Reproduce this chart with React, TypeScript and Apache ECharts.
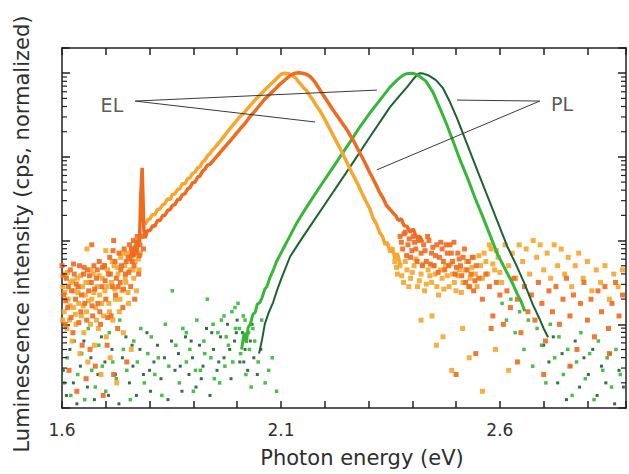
import React, { useEffect, useRef } from "react";
import * as echarts from "echarts";

// Axis ranges / ticks
const X_MIN = 1.6;
const X_MAX = 2.888;
const X_STEP = 0.1;
const X_LABELS = [1.6, 2.1, 2.6];
const Y_MIN = 1e-4;
const Y_MAX = 2;
const DECADES = [-4, -3, -2, -1, 0];

// Values are [photon energy (eV), log10(normalized intensity)]
const EL_LIGHT_CURVE = [
  [1.790,-1.81],[1.796,-1.75],[1.801,-1.74],[1.806,-1.69],[1.812,-1.69],[1.818,-1.63],[1.824,-1.62],[1.830,-1.57],
  [1.835,-1.56],[1.841,-1.50],[1.847,-1.51],[1.852,-1.45],[1.858,-1.44],[1.864,-1.39],[1.869,-1.38],[1.875,-1.32],
  [1.881,-1.32],[1.887,-1.26],[1.892,-1.25],[1.898,-1.20],[1.904,-1.18],[1.910,-1.13],[1.915,-1.12],[1.921,-1.06],
  [1.926,-1.04],[1.932,-0.99],[1.938,-0.96],[1.943,-0.92],[1.949,-0.89],[1.960,-0.82],[1.972,-0.74],[1.984,-0.66],
  [1.995,-0.59],[2.006,-0.52],[2.018,-0.46],[2.029,-0.39],[2.041,-0.32],[2.052,-0.26],[2.063,-0.20],[2.079,-0.12],
  [2.093,-0.05],[2.101,-0.01],[2.109,0],[2.117,-0.005],[2.125,-0.024],[2.134,-0.06],[2.143,-0.12],[2.151,-0.17],
  [2.159,-0.21],[2.166,-0.27],[2.173,-0.32],[2.181,-0.39],[2.189,-0.45],[2.197,-0.52],[2.205,-0.60],[2.216,-0.71],
  [2.228,-0.83],[2.240,-0.95],[2.251,-1.07],[2.262,-1.19],[2.274,-1.31],[2.285,-1.43],[2.296,-1.55],[2.303,-1.62],
  [2.310,-1.73],[2.318,-1.80],[2.326,-1.91],[2.332,-1.95],[2.338,-2.05],[2.343,-2.02],[2.349,-2.14],[2.355,-2.08],
  [2.360,-2.22],[2.366,-2.15],[2.372,-2.29],
];

const EL_DARK_CURVE = [
  [1.755,-2.25],[1.760,-2.12],[1.764,-2.20],[1.768,-2.05],[1.771,-2.15],[1.774,-1.98],[1.777,-2.02],[1.780,-1.45],
  [1.783,-1.13],[1.785,-1.50],[1.787,-1.88],[1.790,-1.97],[1.795,-1.88],[1.801,-1.88],[1.807,-1.82],[1.812,-1.83],
  [1.818,-1.76],[1.824,-1.76],[1.830,-1.70],[1.835,-1.70],[1.841,-1.64],[1.847,-1.63],[1.852,-1.58],[1.858,-1.57],
  [1.864,-1.51],[1.869,-1.51],[1.875,-1.45],[1.881,-1.44],[1.887,-1.38],[1.892,-1.37],[1.898,-1.31],[1.904,-1.30],
  [1.910,-1.24],[1.915,-1.23],[1.921,-1.17],[1.926,-1.15],[1.932,-1.10],[1.938,-1.09],[1.949,-1.02],[1.961,-0.95],
  [1.972,-0.88],[1.984,-0.81],[1.995,-0.74],[2.006,-0.67],[2.018,-0.60],[2.029,-0.52],[2.041,-0.45],[2.052,-0.38],
  [2.063,-0.31],[2.075,-0.25],[2.087,-0.19],[2.098,-0.13],[2.107,-0.09],[2.116,-0.05],[2.124,-0.02],[2.132,0],
  [2.141,0.005],[2.150,0],[2.158,-0.012],[2.166,-0.036],[2.177,-0.10],[2.189,-0.20],[2.204,-0.32],[2.219,-0.44],
  [2.235,-0.56],[2.251,-0.68],[2.266,-0.81],[2.280,-0.95],[2.292,-1.07],[2.303,-1.19],[2.315,-1.31],[2.326,-1.43],
  [2.334,-1.50],[2.341,-1.58],[2.348,-1.62],[2.356,-1.67],[2.362,-1.70],[2.368,-1.76],[2.375,-1.74],[2.381,-1.82],
  [2.388,-1.83],[2.395,-1.90],[2.402,-1.86],[2.409,-1.96],[2.417,-1.95],[2.424,-2.02],
];

const PL_LIGHT_CURVE = [
  [2.010,-3.30],[2.016,-3.10],[2.021,-3.22],[2.025,-3.04],[2.030,-3.00],[2.036,-2.88],[2.041,-2.86],[2.046,-2.76],
  [2.052,-2.74],[2.057,-2.68],[2.063,-2.58],[2.068,-2.55],[2.075,-2.44],[2.082,-2.36],[2.090,-2.25],[2.098,-2.17],
  [2.110,-2.05],[2.121,-1.94],[2.132,-1.83],[2.143,-1.73],[2.155,-1.63],[2.166,-1.54],[2.189,-1.357],[2.212,-1.179],
  [2.235,-1.0],[2.258,-0.821],[2.280,-0.643],[2.303,-0.476],[2.326,-0.321],[2.349,-0.167],[2.365,-0.083],[2.379,-0.024],
  [2.387,-0.006],[2.395,0],[2.404,-0.005],[2.413,-0.024],[2.431,-0.095],[2.447,-0.226],[2.463,-0.417],[2.479,-0.619],
  [2.493,-0.81],[2.509,-1.036],[2.525,-1.238],[2.543,-1.488],[2.559,-1.69],[2.577,-1.929],[2.595,-2.167],[2.616,-2.381],
  [2.628,-2.50],[2.639,-2.631],[2.648,-2.72],[2.657,-2.845],
];

const PL_DARK_CURVE = [
  [2.050,-3.35],[2.057,-3.18],[2.063,-3.00],[2.072,-2.86],[2.082,-2.74],[2.092,-2.58],[2.102,-2.44],[2.121,-2.19],
  [2.143,-2.012],[2.166,-1.833],[2.212,-1.476],[2.258,-1.119],[2.303,-0.762],[2.349,-0.405],[2.372,-0.262],[2.388,-0.167],
  [2.404,-0.06],[2.411,-0.02],[2.417,0],[2.425,-0.005],[2.436,-0.024],[2.454,-0.083],[2.470,-0.179],[2.486,-0.345],
  [2.502,-0.536],[2.516,-0.726],[2.532,-0.94],[2.548,-1.155],[2.566,-1.393],[2.582,-1.607],[2.600,-1.845],[2.618,-2.083],
  [2.639,-2.31],[2.657,-2.524],[2.675,-2.762],[2.691,-2.94],[2.700,-3.05],[2.710,-3.155],
];

// Noisy low-intensity points
const EL_LIGHT_NOISE = [
  [1.602,-2.55],[1.605,-2.85],[1.608,-2.40],[1.611,-3.05],[1.614,-2.70],[1.617,-2.95],[1.620,-2.50],[1.623,-3.20],
  [1.626,-2.80],[1.629,-2.60],[1.632,-3.00],[1.635,-2.45],[1.638,-2.75],[1.641,-3.35],[1.644,-2.90],[1.647,-2.55],
  [1.650,-3.10],[1.653,-2.65],[1.656,-2.85],[1.659,-3.45],[1.662,-2.50],[1.665,-3.00],[1.668,-2.70],[1.671,-2.40],
  [1.674,-3.25],[1.677,-2.80],[1.680,-2.55],[1.683,-3.05],[1.686,-2.65],[1.689,-3.60],[1.692,-2.45],[1.695,-2.90],
  [1.698,-2.60],[1.701,-3.15],[1.704,-2.35],[1.707,-2.75],[1.710,-3.40],[1.713,-2.50],[1.716,-2.95],[1.719,-2.30],
  [1.722,-2.70],[1.725,-3.70],[1.728,-2.40],[1.731,-2.85],[1.734,-2.20],[1.737,-2.60],[1.740,-3.10],[1.743,-2.30],
  [1.746,-2.50],[1.749,-2.15],[1.752,-2.75],[1.755,-2.35],[1.758,-3.30],[1.761,-2.10],[1.764,-2.45],[1.767,-2.25],
  [1.770,-2.60],[1.773,-2.05],[1.776,-2.35],[1.779,-2.15],[1.657,-2.10],[1.700,-2.12],
  [1.6015,-2.95],[1.6065,-2.62],[1.6125,-2.38],[1.6185,-2.78],[1.6245,-2.48],[1.6305,-2.88],[1.6365,-2.62],[1.6425,-2.42],
  [1.6485,-2.78],[1.6545,-2.50],[1.6605,-2.72],[1.6665,-2.35],[1.6725,-2.62],[1.6785,-2.95],[1.6845,-2.42],[1.6905,-2.75],
  [1.6965,-2.30],[1.7025,-2.55],[1.7085,-2.85],[1.7145,-2.25],[1.7205,-2.58],[1.7265,-2.32],[1.7325,-2.70],[1.7385,-2.15],
  [1.7445,-2.45],[1.7505,-2.62],[1.7565,-2.18],[1.7625,-2.35],[1.7685,-2.08],[1.7745,-2.22],
  [2.360,-2.25],[2.366,-2.40],[2.372,-2.30],[2.380,-2.50],[2.388,-2.35],[2.396,-2.45],[2.404,-2.30],[2.412,-2.55],
  [2.420,-2.40],[2.428,-2.60],[2.436,-2.35],[2.444,-2.50],[2.452,-2.40],[2.460,-2.65],[2.468,-2.45],[2.476,-2.30],
  [2.484,-2.55],[2.492,-2.40],[2.500,-2.60],[2.508,-2.35],[2.516,-2.50],[2.524,-2.25],[2.532,-2.45],[2.540,-2.20],
  [2.548,-2.55],[2.556,-2.30],[2.564,-2.15],[2.572,-2.40],[2.580,-2.10],[2.588,-2.35],[2.596,-2.20],[2.604,-2.50],
  [2.612,-2.05],[2.620,-2.30],[2.628,-2.15],[2.636,-2.45],[2.644,-2.05],[2.652,-2.25],[2.660,-2.10],[2.668,-2.40],
  [2.676,-2.00],[2.684,-2.20],[2.692,-2.05],[2.700,-2.35],[2.708,-2.15],[2.716,-2.45],[2.724,-2.05],[2.732,-2.30],
  [2.740,-2.10],[2.748,-2.40],[2.756,-2.20],[2.764,-2.55],[2.772,-2.30],[2.780,-2.15],[2.790,-2.45],[2.800,-2.25],
  [2.810,-2.60],[2.820,-2.35],[2.830,-2.50],[2.840,-2.30],[2.850,-2.70],[2.860,-2.40],[2.870,-2.55],[2.880,-2.35],
  [2.364,-2.32],[2.376,-2.42],[2.384,-2.25],[2.392,-2.55],[2.400,-2.38],[2.408,-2.22],[2.416,-2.48],[2.424,-2.28],
  [2.432,-2.52],[2.440,-2.42],[2.448,-2.30],[2.456,-2.55],[2.464,-2.35],[2.472,-2.58],[2.480,-2.42],[2.488,-2.28],
  [2.496,-2.50],[2.504,-2.42],[2.512,-2.62],[2.520,-2.35],[2.528,-2.55],[2.536,-2.32],[2.544,-2.40],[2.552,-2.18],
  [2.560,-2.45],[2.568,-2.25],[2.576,-2.05],[2.584,-2.28],[2.592,-2.12],[2.600,-2.38],
  [2.420,-2.95],[2.445,-2.90],[2.455,-3.25],[2.470,-3.15],[2.490,-3.55],[2.515,-3.05],[2.530,-3.40],[2.560,-3.80],
  [2.590,-3.30],[2.620,-3.55],
];

const EL_DARK_NOISE = [
  [1.600,-2.30],[1.604,-2.65],[1.607,-3.00],[1.610,-2.45],[1.613,-2.80],[1.616,-3.55],[1.619,-2.35],[1.622,-2.60],
  [1.625,-3.10],[1.628,-2.40],[1.631,-2.70],[1.634,-3.80],[1.637,-2.55],[1.640,-2.30],[1.643,-2.85],[1.646,-3.25],
  [1.649,-2.40],[1.652,-2.75],[1.655,-3.65],[1.658,-2.35],[1.661,-2.60],[1.664,-3.30],[1.667,-2.50],[1.670,-2.90],
  [1.673,-2.30],[1.676,-3.50],[1.679,-2.45],[1.682,-2.75],[1.685,-2.25],[1.688,-3.00],[1.691,-2.55],[1.694,-3.85],
  [1.697,-2.30],[1.700,-2.70],[1.703,-3.25],[1.706,-2.40],[1.709,-2.20],[1.712,-2.90],[1.715,-2.55],[1.718,-3.60],
  [1.721,-2.25],[1.724,-2.45],[1.727,-3.05],[1.730,-2.15],[1.733,-2.50],[1.736,-2.30],[1.739,-2.80],[1.742,-2.10],
  [1.745,-2.40],[1.748,-3.45],[1.751,-2.20],[1.754,-2.05],[1.757,-2.55],[1.760,-2.25],[1.763,-2.00],[1.766,-2.70],
  [1.769,-2.15],[1.772,-1.95],[1.775,-2.40],[1.778,-2.05],[1.782,-1.95],[1.786,-2.10],[1.668,-2.05],[1.718,-2.00],
  [1.6025,-2.42],[1.6085,-2.72],[1.6145,-2.55],[1.6205,-2.92],[1.6265,-2.28],[1.6325,-2.52],[1.6385,-2.98],[1.6445,-2.65],
  [1.6505,-2.32],[1.6565,-2.95],[1.6625,-2.42],[1.6685,-2.78],[1.6745,-2.58],[1.6805,-2.35],[1.6865,-2.85],[1.6925,-2.32],
  [1.6985,-2.48],[1.7045,-2.92],[1.7105,-2.40],[1.7165,-2.12],[1.7225,-2.65],[1.7285,-2.55],[1.7345,-2.35],[1.7405,-2.58],
  [1.7465,-2.25],[1.7525,-2.38],[1.7585,-2.10],[1.7645,-2.30],[1.7705,-2.02],[1.7765,-2.18],
  [2.372,-1.95],[2.378,-2.10],[2.384,-1.90],[2.390,-2.05],[2.396,-2.20],[2.402,-1.95],[2.408,-2.10],[2.414,-2.00],
  [2.420,-2.15],[2.426,-2.05],[2.432,-2.25],[2.438,-2.00],[2.444,-2.15],[2.450,-2.30],[2.456,-2.05],[2.462,-2.20],
  [2.468,-2.10],[2.474,-2.35],[2.480,-2.15],[2.486,-2.05],[2.492,-2.25],[2.498,-2.40],[2.504,-2.15],[2.510,-2.30],
  [2.516,-2.20],[2.522,-2.50],[2.528,-2.25],[2.534,-2.40],[2.540,-2.60],[2.546,-2.30],[2.552,-2.45],[2.560,-2.70],
  [2.568,-2.40],[2.576,-2.55],[2.584,-2.90],[2.592,-2.50],[2.600,-2.65],[2.608,-3.00],[2.616,-2.60],[2.624,-2.80],
  [2.632,-2.45],[2.640,-2.70],[2.648,-3.10],[2.656,-2.55],[2.664,-2.85],[2.672,-2.65],[2.680,-2.95],[2.688,-2.50],
  [2.696,-2.75],[2.704,-3.20],[2.712,-2.60],[2.720,-2.85],[2.728,-2.55],[2.736,-3.00],[2.744,-2.70],[2.752,-2.45],
  [2.760,-2.90],[2.768,-2.65],[2.776,-3.30],[2.784,-2.75],[2.792,-2.50],[2.800,-2.95],[2.808,-2.70],[2.816,-3.15],
  [2.824,-2.60],[2.832,-2.85],[2.840,-2.55],[2.848,-3.05],[2.856,-2.75],[2.864,-2.50],[2.872,-2.90],[2.880,-2.65],
  [2.375,-2.02],[2.381,-1.92],[2.387,-2.18],[2.393,-1.98],[2.399,-2.12],[2.405,-2.02],[2.411,-2.25],[2.417,-1.98],
  [2.423,-2.30],[2.429,-2.12],[2.435,-1.95],[2.441,-2.28],[2.447,-2.08],[2.453,-2.18],[2.459,-2.38],[2.465,-2.02],
  [2.471,-2.25],[2.477,-2.05],[2.483,-2.30],[2.489,-2.15],[2.495,-2.02],[2.501,-2.32],[2.507,-2.22],[2.513,-2.42],
  [2.519,-2.10],[2.525,-2.35],[2.531,-2.55],[2.537,-2.20],[2.543,-2.48],
  [2.500,-3.60],[2.545,-3.35],[2.580,-3.05],[2.640,-3.45],[2.700,-3.60],[2.760,-3.50],[2.850,-3.35],
];

const PL_LIGHT_NOISE = [
  [1.605,-3.70],[1.612,-3.40],[1.620,-3.85],[1.628,-3.20],[1.636,-3.60],[1.645,-3.35],[1.652,-3.90],[1.660,-3.05],
  [1.668,-3.55],[1.676,-3.75],[1.684,-3.25],[1.692,-3.50],[1.700,-3.80],[1.708,-3.10],[1.716,-3.45],[1.724,-3.65],
  [1.732,-2.95],[1.740,-3.30],[1.748,-3.55],[1.756,-3.90],[1.764,-3.20],[1.772,-3.45],[1.780,-3.05],[1.788,-3.70],
  [1.796,-3.35],[1.804,-3.15],[1.812,-3.60],[1.820,-3.40],[1.828,-3.85],[1.836,-3.00],[1.844,-3.50],[1.852,-2.60],
  [1.860,-3.25],[1.868,-3.70],[1.876,-3.05],[1.884,-3.45],[1.892,-3.30],[1.900,-3.80],[1.908,-2.95],[1.916,-3.55],
  [1.924,-3.20],[1.932,-2.70],[1.940,-3.40],[1.948,-3.65],[1.956,-3.10],[1.964,-2.95],[1.972,-3.50],[1.980,-3.25],
  [1.988,-2.85],[1.996,-3.05],[2.002,-2.75],[2.008,-3.35],[2.014,-2.90],[2.020,-3.60],[2.026,-3.10],[2.032,-3.75],
  [2.040,-3.20],[2.048,-3.45],[2.056,-2.95],[2.064,-3.70],[2.072,-3.55],[2.080,-3.40],[2.090,-3.80],
  [1.884,-3.10],[1.905,-3.55],[1.926,-3.35],[1.945,-3.00],[1.960,-3.70],[1.975,-3.15],[1.990,-3.45],[2.005,-3.05],
  [2.018,-2.95],[2.028,-3.30],[2.036,-3.05],[1.970,-2.90],[1.995,-2.80],
  [2.605,-2.75],[2.615,-2.95],[2.625,-2.70],[2.635,-3.10],[2.645,-2.85],[2.655,-3.30],[2.665,-2.95],[2.675,-3.50],
  [2.685,-3.05],[2.695,-3.25],[2.705,-3.70],[2.715,-3.00],[2.725,-3.40],[2.735,-3.15],[2.745,-3.60],[2.755,-3.30],
  [2.765,-3.85],[2.775,-3.45],[2.785,-3.10],[2.795,-3.65],[2.805,-3.35],[2.815,-3.90],[2.825,-3.20],[2.835,-3.55],
  [2.845,-3.40],[2.855,-3.75],[2.865,-3.30],[2.875,-3.60],
];

const PL_DARK_NOISE = [
  [1.603,-3.55],[1.610,-3.85],[1.618,-3.30],[1.626,-3.70],[1.634,-3.95],[1.642,-3.50],[1.650,-3.20],[1.658,-3.75],
  [1.666,-3.40],[1.674,-3.90],[1.682,-3.60],[1.690,-3.15],[1.698,-3.45],[1.706,-3.85],[1.714,-3.30],[1.722,-3.60],
  [1.730,-3.95],[1.738,-3.40],[1.746,-3.15],[1.754,-3.70],[1.762,-3.50],[1.770,-3.85],[1.778,-3.30],[1.786,-3.60],
  [1.794,-3.10],[1.802,-3.80],[1.810,-3.45],[1.818,-3.25],[1.826,-3.65],[1.834,-3.40],[1.842,-3.90],[1.850,-3.20],
  [1.858,-3.55],[1.866,-3.35],[1.874,-3.80],[1.882,-3.15],[1.890,-3.60],[1.898,-3.40],[1.906,-3.75],[1.914,-3.25],
  [1.922,-3.50],[1.930,-3.05],[1.938,-3.85],[1.946,-3.30],[1.954,-3.55],[1.962,-3.15],[1.970,-3.40],[1.978,-3.00],
  [1.986,-3.65],[1.994,-3.20],[2.000,-2.95],[2.006,-3.45],[2.012,-3.10],[2.018,-3.30],[2.024,-3.55],[2.030,-3.20],
  [2.038,-3.40],[2.046,-3.60],[2.054,-3.30],
  [1.870,-3.50],[1.895,-3.20],[1.918,-3.65],[1.942,-3.10],[1.958,-3.45],[1.983,-3.30],[1.998,-3.10],[2.015,-3.45],
  [2.034,-3.00],[1.760,-3.25],[1.800,-3.55],
  [2.700,-3.25],[2.712,-3.45],[2.722,-3.15],[2.732,-3.70],[2.742,-3.35],[2.752,-3.90],[2.762,-3.50],[2.772,-3.20],
  [2.782,-3.75],[2.792,-3.40],[2.802,-3.60],[2.812,-3.30],[2.822,-3.85],[2.832,-3.50],[2.842,-3.70],[2.852,-3.35],
  [2.862,-3.95],[2.872,-3.55],[2.882,-3.75],
];

// Annotations: label position and leader-line end points [eV, log10 intensity]
const EL_LABEL = [1.714, -0.38];
const PL_LABEL = [2.742, -0.37];
const EL_LEADERS = [
  [[1.767, -0.333], [2.319, -0.202]],
  [[1.767, -0.333], [2.178, -0.583]],
];
const PL_LEADERS = [
  [[2.691, -0.333], [2.502, -0.321]],
  [[2.691, -0.333], [2.319, -1.155]],
];

const COLORS = {
  elLight: "#F7A62E",
  elDark: "#F06A1F",
  plLight: "#35B838",
  plDark: "#1E6133",
  ink: "#2e2e2e",
};
const FONT = "DejaVu Sans";

const toPts = (arr: number[][]) => arr.map(([e, l]) => [e, Math.pow(10, l)]);

export default function App() {
  const ref = useRef<HTMLDivElement>(null);
  useEffect(() => {
    if (!ref.current) return;
    const chart = echarts.init(ref.current, undefined, { renderer: "svg" });

    const minorTicks: number[] = [];
    DECADES.forEach((d) => {
      for (let m = 2; m <= 9; m++) {
        const v = m * Math.pow(10, d);
        if (v <= Y_MAX) minorTicks.push(v);
      }
    });

    const isLabel = (v: number) => X_LABELS.some((t) => Math.abs(t - v) < 1e-6);

    const lineSeries = (name: string, data: number[][], color: string, width: number) => ({
      name,
      type: "line",
      data: toPts(data),
      showSymbol: false,
      symbol: "none",
      lineStyle: { color, width },
      z: 5,
    });
    const noiseSeries = (name: string, data: number[][], color: string, size: number) => ({
      name,
      type: "scatter",
      data: toPts(data),
      symbol: "rect",
      symbolSize: size,
      itemStyle: { color, opacity: 0.9 },
      z: 3,
    });
    const leaderSeries = (seg: number[][]) => ({
      type: "line",
      data: toPts(seg),
      showSymbol: false,
      symbol: "none",
      lineStyle: { color: "#3a3a3a", width: 1 },
      z: 8,
    });
    const labelSeries = (text: string, pos: number[]) => ({
      type: "scatter",
      data: toPts([pos]),
      symbolSize: 1,
      itemStyle: { color: "rgba(0,0,0,0)" },
      label: {
        show: true,
        position: "inside",
        formatter: text,
        fontFamily: FONT,
        fontSize: 19,
        color: COLORS.ink,
      },
      z: 9,
    });

    const xAxisBase = {
      type: "value",
      min: X_MIN,
      max: X_MAX,
      interval: X_STEP,
      splitLine: { show: false },
      axisLine: { show: true, onZero: false, lineStyle: { color: "#222", width: 1.5 } },
      axisTick: { show: true, inside: true, length: 7, lineStyle: { color: "#222", width: 1.5 } },
    };
    const yAxisBase = {
      type: "log",
      logBase: 10,
      min: Y_MIN,
      max: Y_MAX,
      splitLine: { show: false },
      axisLine: { show: true, lineStyle: { color: "#222", width: 1.5 } },
      axisTick: { show: true, inside: true, length: 8, lineStyle: { color: "#222", width: 1.5 } },
      axisLabel: { show: false },
    };

    chart.setOption({
      animation: false,
      backgroundColor: "#ffffff",
      grid: { left: 62, right: 3, top: 48, bottom: 66, containLabel: false },
      xAxis: [
        {
          ...xAxisBase,
          position: "bottom",
          axisLabel: {
            show: true,
            margin: 13,
            fontFamily: FONT,
            fontSize: 17,
            color: COLORS.ink,
            formatter: (v: number) => (isLabel(v) ? v.toFixed(1) : ""),
          },
        },
        { ...xAxisBase, position: "top", axisLabel: { show: false } },
      ],
      yAxis: [
        { ...yAxisBase, position: "left" },
        { ...yAxisBase, position: "right" },
      ],
      graphic: [
        {
          type: "text",
          x: 362,
          y: 458,
          style: {
            text: "Photon energy (eV)",
            fontFamily: FONT,
            fontSize: 21,
            fill: COLORS.ink,
            textAlign: "center",
            textVerticalAlign: "middle",
          },
        },
        {
          type: "text",
          x: 22,
          y: 234,
          rotation: Math.PI / 2,
          style: {
            text: "Luminescence intensity (cps, normalized)",
            fontFamily: FONT,
            fontSize: 21,
            fill: COLORS.ink,
            textAlign: "center",
            textVerticalAlign: "middle",
          },
        },
      ],
      series: [
        {
          type: "custom",
          coordinateSystem: "cartesian2d",
          silent: true,
          clip: false,
          data: minorTicks.map((v) => [X_MIN, v]),
          encode: { x: 0, y: 1 },
          renderItem: (_p: any, api: any) => {
            const v = api.value(1);
            const l = api.coord([X_MIN, v]);
            const r = api.coord([X_MAX, v]);
            return {
              type: "group",
              children: [
                { type: "line", shape: { x1: l[0], y1: l[1], x2: l[0] + 5, y2: l[1] }, style: { stroke: "#222", lineWidth: 1.2 } },
                { type: "line", shape: { x1: r[0], y1: r[1], x2: r[0] - 5, y2: r[1] }, style: { stroke: "#222", lineWidth: 1.2 } },
              ],
            };
          },
          z: 10,
        },
        noiseSeries("PL dark noise", PL_DARK_NOISE, COLORS.plDark, 3),
        noiseSeries("PL light noise", PL_LIGHT_NOISE, COLORS.plLight, 3.5),
        noiseSeries("EL light noise", EL_LIGHT_NOISE, COLORS.elLight, 5),
        noiseSeries("EL dark noise", EL_DARK_NOISE, COLORS.elDark, 5),
        lineSeries("PL dark", PL_DARK_CURVE, COLORS.plDark, 2),
        lineSeries("PL light", PL_LIGHT_CURVE, COLORS.plLight, 3),
        lineSeries("EL light", EL_LIGHT_CURVE, COLORS.elLight, 3.5),
        lineSeries("EL dark", EL_DARK_CURVE, COLORS.elDark, 3.5),
        ...EL_LEADERS.map(leaderSeries),
        ...PL_LEADERS.map(leaderSeries),
        labelSeries("EL", EL_LABEL),
        labelSeries("PL", PL_LABEL),
      ],
    });
    return () => chart.dispose();
  }, []);

  return (
    <div
      ref={ref}
      style={{ position: "absolute", left: 0, top: 0, width: 629, height: 474, background: "#fff" }}
    />
  );
}
